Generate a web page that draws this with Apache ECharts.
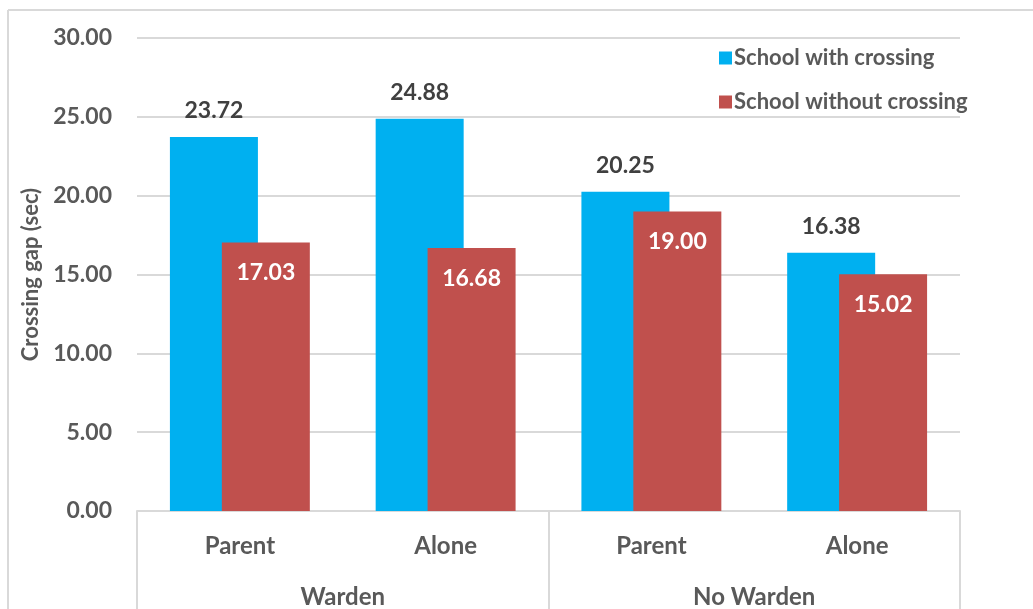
<!DOCTYPE html>
<html>
<head>
<meta charset="utf-8">
<script src="https://cdn.jsdelivr.net/npm/echarts@6/dist/echarts.min.js"></script>
<style>
  html, body { margin: 0; padding: 0; background: #fff; }
  #chart { width: 1033px; height: 609px; }
</style>
</head>
<body>
<div id="chart"></div>
<script>
// Crossing gap by supervision and accompaniment
const categories = ['Parent', 'Alone', 'Parent', 'Alone'];
const groups = ['Warden', 'No Warden'];
const seriesNames = ['School with crossing', 'School without crossing'];
const withCrossing = [23.72, 24.88, 20.25, 16.38];
const withoutCrossing = [17.03, 16.68, 19.00, 15.02];
const yTicks = [0, 5, 10, 15, 20, 25, 30];

const FONT = 'Lato';
const GREY = '#595959';
const LINE = '#d9d9d9';

const chart = echarts.init(document.getElementById('chart'), null, { renderer: 'canvas' });

chart.setOption({
  animation: false,
  textStyle: { fontFamily: FONT },
  grid: { left: 137, right: 73, top: 38, bottom: 97, containLabel: false },
  legend: {
    orient: 'vertical',
    left: 714,
    top: 42,
    itemWidth: 13,
    itemHeight: 13,
    itemGap: 22,
    icon: 'rect',
    textStyle: { fontFamily: FONT, fontSize: 22, fontWeight: 'bold', color: GREY, padding: [0, 0, 0, -3] },
    data: seriesNames
  },
  xAxis: [
    {
      type: 'category',
      data: categories,
      position: 'bottom',
      axisLine: { show: true, lineStyle: { color: LINE, width: 2 } },
      axisTick: { show: false },
      axisLabel: { margin: 23, fontSize: 24, fontWeight: 'bold', color: GREY, fontFamily: FONT }
    },
    {
      type: 'category',
      data: groups,
      position: 'bottom',
      offset: 0,
      axisLine: { show: false },
      axisTick: { show: true, alignWithLabel: false, length: 100, lineStyle: { color: LINE, width: 2 } },
      axisLabel: { margin: 74, fontSize: 24, fontWeight: 'bold', color: GREY, fontFamily: FONT }
    }
  ],
  yAxis: {
    type: 'value',
    min: yTicks[0],
    max: yTicks[yTicks.length - 1],
    interval: 5,
    name: 'Crossing gap (sec)',
    nameLocation: 'middle',
    nameGap: 93,
    nameTextStyle: { fontSize: 22, fontWeight: 'bold', color: GREY, fontFamily: FONT, padding: [0, 0, 0, 0] },
    axisLine: { show: false },
    axisTick: { show: false },
    splitLine: { lineStyle: { color: LINE, width: 2 } },
    axisLabel: {
      margin: 25,
      fontSize: 23,
      fontWeight: 'bold',
      color: GREY,
      fontFamily: FONT,
      formatter: v => v.toFixed(2)
    }
  },
  series: [
    {
      name: seriesNames[0],
      type: 'bar',
      data: withCrossing,
      barWidth: 88,
      barGap: '-41%',
      itemStyle: { color: '#00B0F0' },
      label: {
        show: true,
        position: 'top',
        distance: 15,
        fontSize: 23,
        fontWeight: 'bold',
        color: '#404040',
        fontFamily: FONT,
        formatter: p => p.value.toFixed(2)
      }
    },
    {
      name: seriesNames[1],
      type: 'bar',
      data: withoutCrossing,
      barWidth: 88,
      barGap: '-41%',
      itemStyle: { color: '#C0504D' },
      label: {
        show: true,
        position: 'insideTop',
        distance: 19,
        fontSize: 23,
        fontWeight: 'bold',
        color: '#ffffff',
        fontFamily: FONT,
        formatter: p => p.value.toFixed(2)
      }
    }
  ],
  graphic: [
    { type: 'line', shape: { x1: 8, y1: 10, x2: 1033, y2: 10 }, style: { stroke: LINE, lineWidth: 2 } },
    { type: 'line', shape: { x1: 8, y1: 10, x2: 8, y2: 609 }, style: { stroke: LINE, lineWidth: 2 } }
  ]
});
</script>
</body>
</html>
